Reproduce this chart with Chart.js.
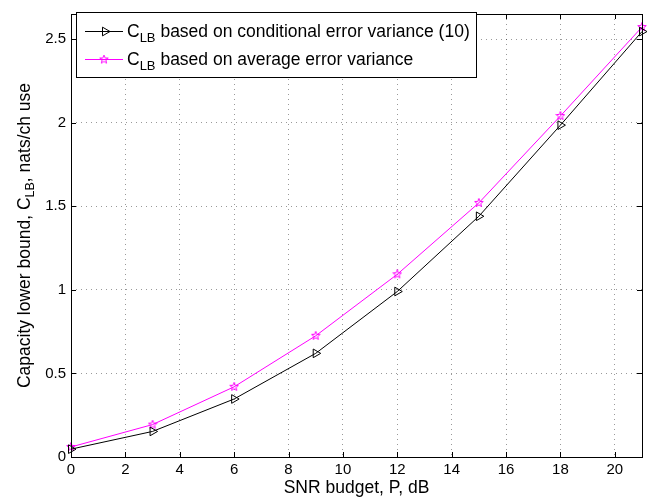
<!DOCTYPE html>
<html lang="en">
<head>
<meta charset="UTF-8">
<title>Capacity lower bound vs SNR</title>
<style>
  html, body { margin: 0; padding: 0; background: #fff; }
  #caja { width: 657px; height: 499px; }
</style>
</head>
<body>
<div id="caja"><canvas id="grafica" width="657" height="499"></canvas></div>
<script src="https://cdn.jsdelivr.net/npm/chart.js"></script>
<script>
// datos
const snr = [0, 3, 6, 9, 12, 15, 18, 21];
const clbCond = [0.047, 0.153, 0.347, 0.62, 0.99, 1.44, 1.985, 2.545];
const clbAvg = [0.06, 0.194, 0.42, 0.725, 1.093, 1.52, 2.04, 2.572];
const xTicks = [0, 2, 4, 6, 8, 10, 12, 14, 16, 18, 20];
const yTicks = [0, 0.5, 1, 1.5, 2, 2.5];
const legendText = ['based on conditional error variance (10)', 'based on average error variance'];

const FAM = '"Liberation Sans", Arial, Helvetica, sans-serif';

function hacerEstrella(size, color) {
    const c = document.createElement('canvas');
    c.width = size; c.height = size;
    const g = c.getContext('2d');
    const cx = size / 2, cy = size / 2, R = size / 2 - 0.5, r = R * 0.42;
    g.beginPath();
    for (let i = 0; i < 10; i++) {
        const a = -Math.PI / 2 + i * Math.PI / 5;
        const rr = i % 2 ? r : R;
        g.lineTo(cx + rr * Math.cos(a), cy + rr * Math.sin(a));
    }
    g.closePath();
    g.strokeStyle = color;
    g.lineWidth = 1;
    g.stroke();
    return c;
}
const estrella = hacerEstrella(10, '#ff00ff');

function triangulo(ctx, x, y, r) {
    ctx.beginPath();
    ctx.moveTo(x + r, y);
    ctx.lineTo(x - r * 0.5, y - r * 0.87);
    ctx.lineTo(x - r * 0.5, y + r * 0.87);
    ctx.closePath();
    ctx.stroke();
}

function textoSub(ctx, x, y, main, size) {
    // "C" + subindice "LB" + resto
    ctx.font = size + 'px ' + FAM;
    ctx.fillText('C', x, y);
    let w = ctx.measureText('C').width;
    ctx.font = Math.round(size * 0.72) + 'px ' + FAM;
    ctx.fillText('LB', x + w, y + 5);
    w += ctx.measureText('LB').width;
    ctx.font = size + 'px ' + FAM;
    ctx.fillText(main, x + w, y);
}

const marco = {
    id: 'marco',
    afterDraw(chart) {
        const ctx = chart.ctx, a = chart.chartArea;
        const sx = chart.scales.x, sy = chart.scales.y;
        ctx.save();
        ctx.strokeStyle = '#000';
        ctx.lineWidth = 1;
        ctx.strokeRect(Math.round(a.left) + 0.5, Math.round(a.top) + 0.5,
            Math.round(a.right - a.left), Math.round(a.bottom - a.top));
        // marcas interiores
        ctx.beginPath();
        xTicks.forEach(v => {
            const px = Math.round(sx.getPixelForValue(v)) + 0.5;
            ctx.moveTo(px, a.bottom); ctx.lineTo(px, a.bottom - 5);
            ctx.moveTo(px, a.top); ctx.lineTo(px, a.top + 5);
        });
        yTicks.forEach(v => {
            const py = Math.round(sy.getPixelForValue(v)) + 0.5;
            ctx.moveTo(a.left, py); ctx.lineTo(a.left + 5, py);
            ctx.moveTo(a.right, py); ctx.lineTo(a.right - 5, py);
        });
        ctx.stroke();

        // titulo eje y con subindice
        ctx.fillStyle = '#000';
        ctx.textBaseline = 'alphabetic';
        ctx.textAlign = 'left';
        const s1 = 'Capacity lower bound, C', s2 = 'LB', s3 = ', nats/ch use';
        ctx.font = '17.5px ' + FAM;
        const w1 = ctx.measureText(s1).width, w3 = ctx.measureText(s3).width;
        ctx.font = '12.5px ' + FAM;
        const w2 = ctx.measureText(s2).width;
        const tot = w1 + w2 + w3;
        ctx.save();
        ctx.translate(30, (a.top + a.bottom) / 2);
        ctx.rotate(-Math.PI / 2);
        ctx.font = '17.5px ' + FAM;
        ctx.fillText(s1, -tot / 2, 0);
        ctx.font = '12.5px ' + FAM;
        ctx.fillText(s2, -tot / 2 + w1, 4);
        ctx.font = '17.5px ' + FAM;
        ctx.fillText(s3, -tot / 2 + w1 + w2, 0);
        ctx.restore();

        // leyenda
        ctx.fillStyle = '#fff';
        ctx.fillRect(76.5, 12.5, 400, 65);
        ctx.strokeStyle = '#000';
        ctx.strokeRect(76.5, 12.5, 400, 65);
        ctx.fillStyle = '#000';
        // fila 1
        ctx.beginPath(); ctx.moveTo(85, 31.5); ctx.lineTo(123, 31.5); ctx.stroke();
        triangulo(ctx, 105, 31.5, 5);
        textoSub(ctx, 127, 37, ' ' + legendText[0], 17.5);
        // fila 2
        ctx.strokeStyle = '#ff00ff';
        ctx.beginPath(); ctx.moveTo(85, 59.5); ctx.lineTo(123, 59.5); ctx.stroke();
        ctx.drawImage(estrella, 104 - 5, 59.5 - 5);
        ctx.fillStyle = '#000';
        textoSub(ctx, 127, 65, ' ' + legendText[1], 17.5);
        ctx.restore();
    }
};

const ctx = document.getElementById('grafica').getContext('2d');
new Chart(ctx, {
    type: 'line',
    data: {
        datasets: [
            {
                label: 'C_LB conditional',
                data: snr.map((x, i) => ({ x: x, y: clbCond[i] })),
                borderColor: '#000',
                borderWidth: 1,
                pointStyle: 'triangle',
                pointRotation: 90,
                pointRadius: 5,
                pointBackgroundColor: 'rgba(0,0,0,0)',
                pointBorderColor: '#000',
                pointBorderWidth: 1,
                tension: 0,
                clip: false
            },
            {
                label: 'C_LB average',
                data: snr.map((x, i) => ({ x: x, y: clbAvg[i] })),
                borderColor: '#ff00ff',
                borderWidth: 1,
                pointStyle: estrella,
                pointRadius: 5,
                tension: 0,
                clip: false
            }
        ]
    },
    options: {
        responsive: false,
        animation: false,
        devicePixelRatio: 1,
        layout: { padding: { top: 7, right: 15, left: 0, bottom: 0 } },
        plugins: {
            legend: { display: false },
            tooltip: { enabled: false }
        },
        scales: {
            x: {
                type: 'linear',
                min: 0,
                max: 21,
                afterBuildTicks: s => { s.ticks = xTicks.map(v => ({ value: v })); },
                afterFit: s => { s.height = 42; },
                ticks: {
                    color: '#000',
                    font: { family: FAM, size: 15 },
                    padding: 4,
                    maxRotation: 0,
                    autoSkip: false,
                    callback: v => String(v)
                },
                grid: { color: 'rgba(0,0,0,0.4)', drawTicks: false },
                border: { display: false, dash: [1, 4] },
                title: {
                    display: true,
                    text: 'SNR budget, P, dB',
                    color: '#000',
                    font: { family: FAM, size: 17.5 },
                    padding: 0
                }
            },
            y: {
                type: 'linear',
                min: 0,
                max: 2.65,
                afterBuildTicks: s => { s.ticks = yTicks.map(v => ({ value: v })); },
                afterFit: s => { s.width = 71; },
                ticks: {
                    color: '#000',
                    font: { family: FAM, size: 15 },
                    padding: 5,
                    autoSkip: false,
                    callback: v => String(v)
                },
                grid: { color: 'rgba(0,0,0,0.4)', drawTicks: false },
                border: { display: false, dash: [1, 4] }
            }
        }
    },
    plugins: [marco]
});
</script>
</body>
</html>
